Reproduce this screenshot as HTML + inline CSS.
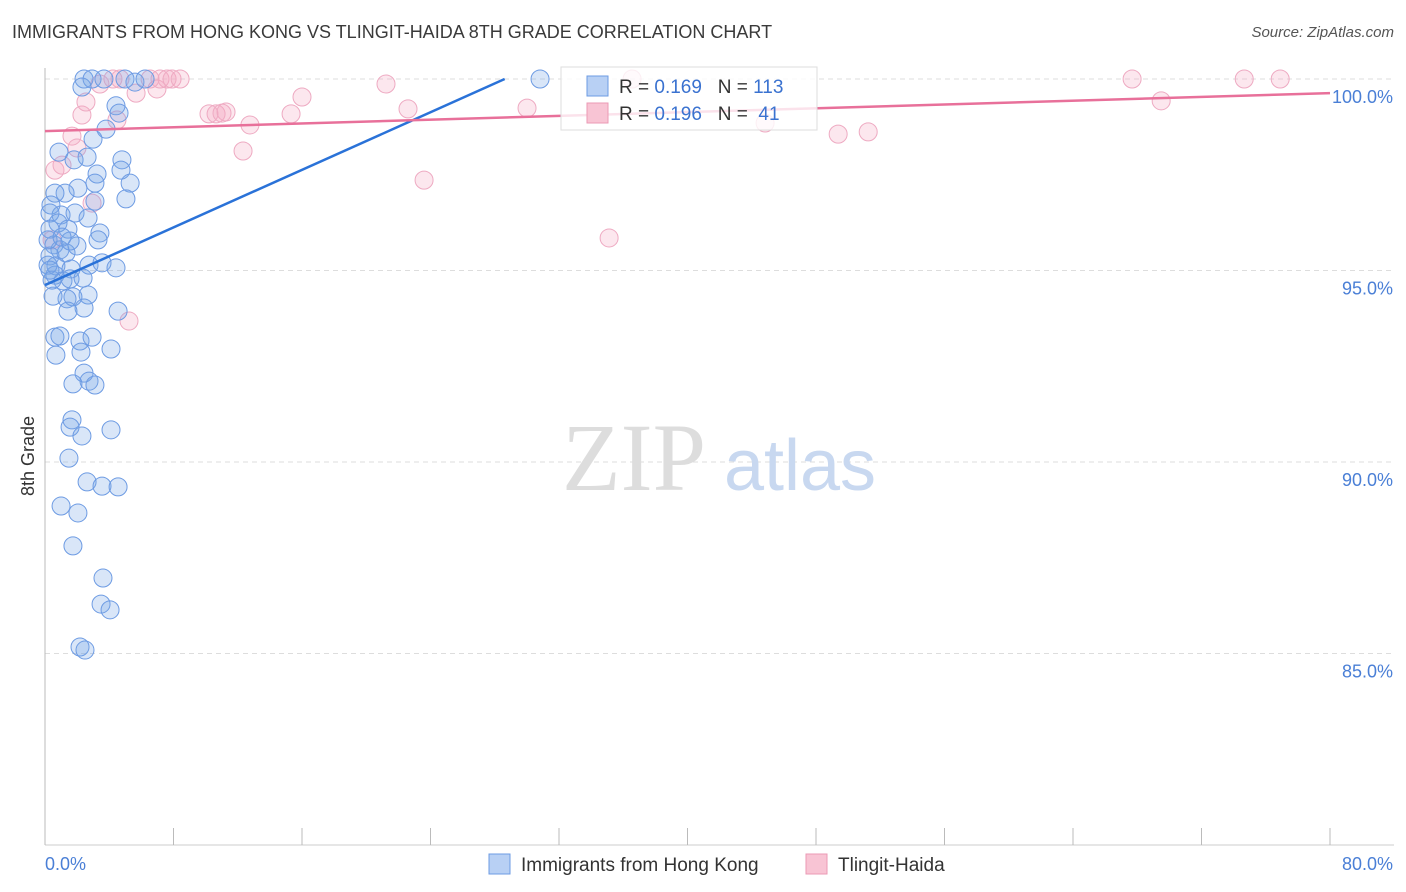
<!DOCTYPE html>
<html><head><meta charset="utf-8"><style>
body{margin:0;background:#fff;font-family:"Liberation Sans",sans-serif;}
#wrap{position:relative;width:1406px;height:892px;overflow:hidden;}
.t{position:absolute;white-space:nowrap;}
</style></head><body>
<div id="wrap">
<div class="t" style="left:12px;top:22px;font-size:18px;color:#3a3a3a;">IMMIGRANTS FROM HONG KONG VS TLINGIT-HAIDA 8TH GRADE CORRELATION CHART</div>
<div class="t" style="right:12px;top:24px;font-size:15px;color:#555;font-style:italic;">Source: ZipAtlas.com</div>
<svg id="svg" width="1406" height="892" style="position:absolute;left:0;top:0"></svg>
</div>
<script>
const blueX=[2.43,2.93,3.67,4.98,6.23,2.30,5.60,30.82,4.42,4.61,3.80,2.99,4.79,4.73,0.87,1.81,2.62,5.30,5.04,3.24,3.11,2.05,1.25,0.62,0.37,3.11,1.00,1.87,2.68,0.31,0.81,1.43,3.42,3.30,0.31,0.56,0.93,1.31,1.99,1.56,0.31,0.68,1.62,2.74,3.55,4.42,0.62,1.12,1.56,2.37,2.68,1.74,1.37,0.50,2.43,1.43,4.55,0.62,0.93,2.18,2.93,2.24,0.68,4.11,2.43,2.74,3.11,1.74,1.68,1.56,2.30,4.11,1.49,2.62,3.55,4.55,1.00,2.05,1.74,3.61,3.49,4.05,2.18,2.49,0.19,0.19,0.44,0.31,1.06];
const blueY=[100,100,100,100,100,99.79,99.92,100,99.30,99.11,98.69,98.43,97.89,97.62,98.09,97.89,97.96,97.28,96.87,97.52,97.28,97.15,97.02,97.02,96.71,96.81,96.45,96.50,96.37,96.50,96.24,96.08,95.98,95.80,96.08,95.67,95.54,95.46,95.64,95.77,95.38,95.12,95.04,95.14,95.20,95.07,94.88,94.73,94.78,94.80,94.36,94.31,94.26,94.33,94.02,93.94,93.94,93.26,93.29,93.16,93.26,92.87,92.79,92.95,92.32,92.11,92.01,92.04,91.10,90.91,90.68,90.84,90.10,89.48,89.37,89.35,88.85,88.67,87.81,86.97,86.29,86.14,85.17,85.09,95.80,95.14,94.75,95.01,95.87];
const pinkX=[0.62,1.06,1.68,1.99,2.30,2.55,4.23,4.67,3.42,5.67,6.54,6.97,7.16,7.60,7.91,8.41,4.48,2.93,5.23,10.21,10.65,11.02,11.27,12.33,12.76,15.32,16.00,21.23,22.60,23.60,30.01,35.12,36.55,44.83,49.38,51.25,67.68,69.49,74.66,76.90,0.44];
const pinkY=[97.62,97.75,98.51,98.20,99.06,99.40,100,100,99.87,99.63,100,99.74,100,100,100,100,98.93,96.76,93.68,99.09,99.09,99.11,99.14,98.12,98.80,99.09,99.53,99.87,99.22,97.36,99.24,95.85,100,98.85,98.56,98.62,100,99.43,100,100,95.80];
const blueTrend=[94.62,0.188];  // intercept, slope
const pinkTrend=[98.64,0.01238];
const yTicks=[100,95,90,85];
const xTickCount=10;

const X0=45,X1=1330,Y100=79,PPU=38.3;
const sx=v=>X0+v*(X1-X0)/80;
const sy=v=>Y100+(100-v)*PPU;
const NS='http://www.w3.org/2000/svg';
const svg=document.getElementById('svg');
function mk(tag,attrs){const e=document.createElementNS(NS,tag);for(const k in attrs)e.setAttribute(k,attrs[k]);svg.appendChild(e);return e;}

yTicks.forEach(v=>{
  const l=mk('line',{x1:45,x2:1394,y1:sy(v),y2:sy(v),stroke:'#ddd','stroke-dasharray':'5,4'});
  
  
  const t=mk('text',{x:1393,y:sy(v)+24,'text-anchor':'end','font-size':18,fill:'#4a7fd6','font-family':'Liberation Sans, sans-serif'});
  t.textContent=v.toFixed(1)+'%';
  
  
});
const ax=mk('line',{x1:45,x2:45,y1:68,y2:845,stroke:'#bbb'});


const bx=mk('line',{x1:45,x2:1394,y1:845,y2:845,stroke:'#ccc'});


for(let i=0;i<=xTickCount;i++){
  const x=sx(i*80/xTickCount);
  const tk=mk('line',{x1:x,x2:x,y1:828,y2:845,stroke:'#bbb'});
  
  
}
[['0.0%',45,'start'],['80.0%',1393,'end']].forEach(a=>{
  const t=mk('text',{x:a[1],y:870,'text-anchor':a[2],'font-size':18,fill:'#4a7fd6','font-family':'Liberation Sans, sans-serif'});
  t.textContent=a[0];
  
  
});
const yt=mk('text',{x:0,y:0,transform:'translate(34,456) rotate(-90)','text-anchor':'middle','font-size':18,fill:'#333','font-family':'Liberation Sans, sans-serif'});
yt.textContent='8th Grade';


const w1=mk('text',{x:634,y:490,'text-anchor':'middle','font-size':96,fill:'#ddd','font-family':'Liberation Serif, serif'});
w1.textContent='ZIP';


const w2=mk('text',{x:800,y:490,'text-anchor':'middle','font-size':72,fill:'#c8d8f0','font-family':'Liberation Sans, sans-serif'});
w2.textContent='atlas';



pinkX.forEach((x,i)=>{
  const c=mk('circle',{cx:sx(x),cy:sy(pinkY[i]),r:9,fill:'rgba(244,170,195,0.28)',stroke:'#eeaac2','stroke-width':1});
  
  
});
blueX.forEach((x,i)=>{
  const c=mk('circle',{cx:sx(x),cy:sy(blueY[i]),r:9,fill:'rgba(120,165,230,0.28)',stroke:'#6d9be3','stroke-width':1});
  
  
});
const bEnd=(100-blueTrend[0])/blueTrend[1];
const bl=mk('line',{x1:sx(0),y1:sy(blueTrend[0]),x2:sx(bEnd),y2:sy(100),stroke:'#2a72d8','stroke-width':2.5});


const pl=mk('line',{x1:sx(0),y1:sy(pinkTrend[0]),x2:sx(80),y2:sy(pinkTrend[0]+80*pinkTrend[1]),stroke:'#e8709a','stroke-width':2.5});



// legend box
const lg=mk('rect',{x:561,y:67,width:256,height:63,fill:'rgba(255,255,255,0.8)',stroke:'#ddd'});


[[0,'#b8d0f4','#6d9be3','0.169','113'],[1,'#f8c4d4','#eb9ab5','0.196',' 41']].forEach(r=>{
  const y=76+r[0]*27;
  const s=mk('rect',{x:587,y:y,width:21,height:20,fill:r[1],stroke:r[2]});
  
  
  const t=mk('text',{x:619,y:y+17,'font-size':19,fill:'#333','font-family':'Liberation Sans, sans-serif',style:'white-space:pre'});
  t.innerHTML='R = <tspan fill="#3a72d0">'+r[3]+'</tspan>   N = <tspan fill="#3a72d0">'+r[4]+'</tspan>';
  
  
});
// bottom legend
[[489,'#b8d0f4','#6d9be3','Immigrants from Hong Kong'],[806,'#f8c4d4','#eb9ab5','Tlingit-Haida']].forEach(r=>{
  const s=mk('rect',{x:r[0],y:854,width:21,height:20,fill:r[1],stroke:r[2]});
  
  
  const t=mk('text',{x:r[0]+32,y:871,'font-size':19,fill:'#333','font-family':'Liberation Sans, sans-serif'});
  t.textContent=r[3];
  
  
});
</script>
</body></html>
